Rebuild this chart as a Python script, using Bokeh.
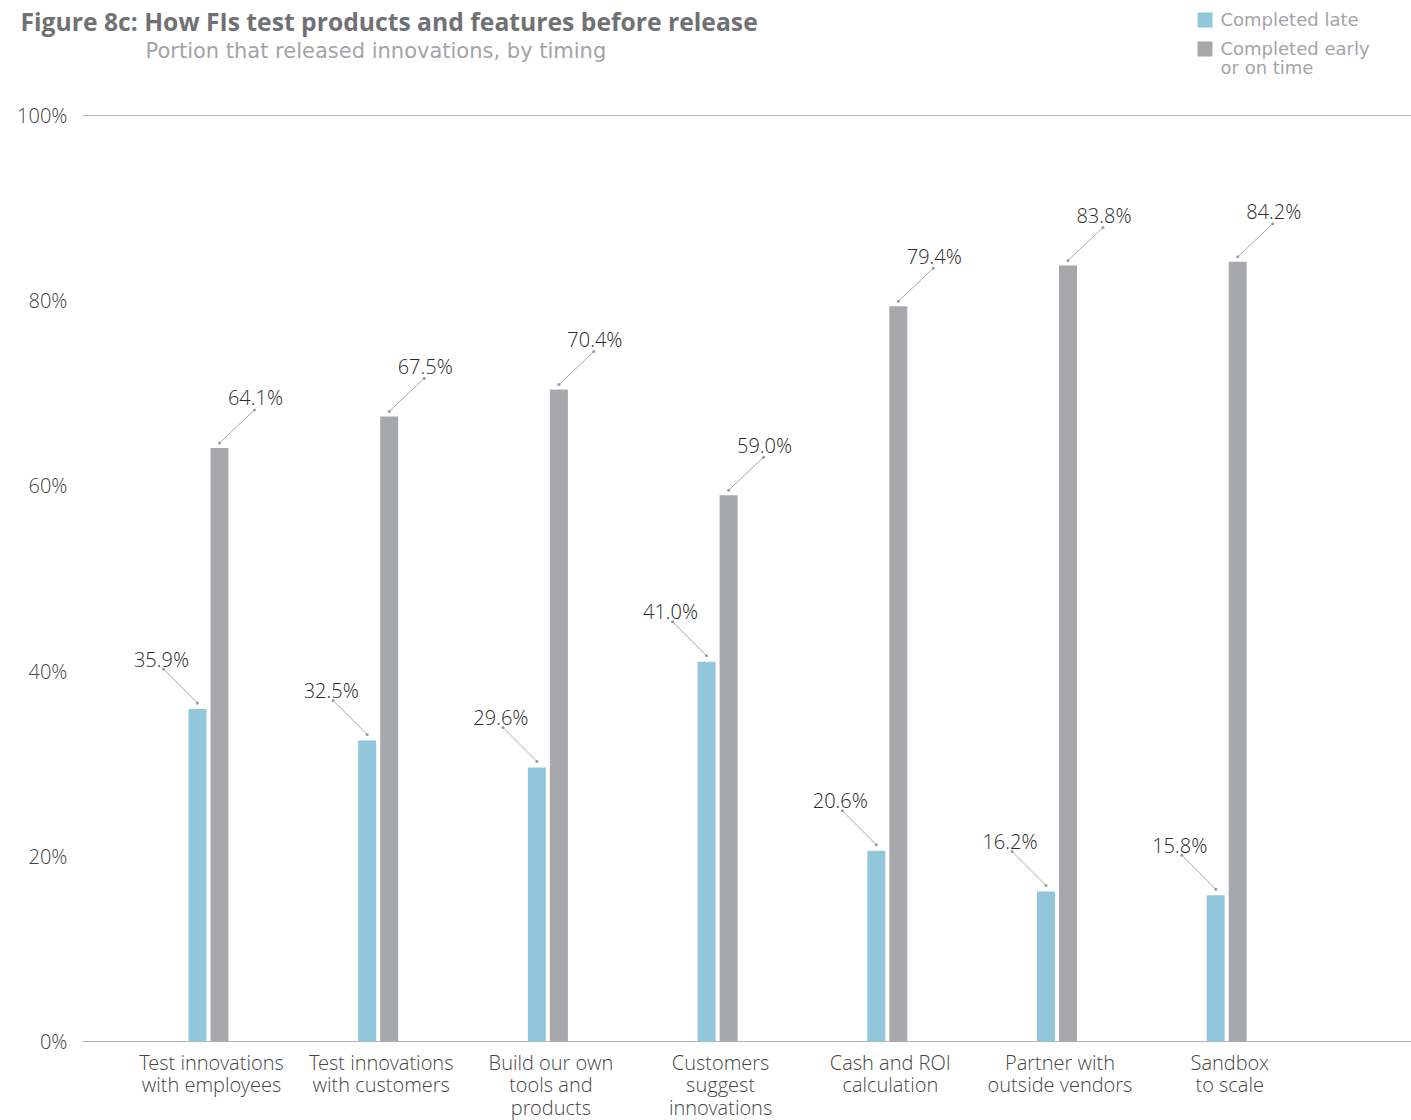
from bokeh.plotting import figure
from bokeh.models import Range1d
from bokeh.core.properties import value
from bokeh.embed import file_html
from bokeh.resources import INLINE

# ---- data ----
categories = [
    "Test innovations\nwith employees",
    "Test innovations\nwith customers",
    "Build our own\ntools and\nproducts",
    "Customers\nsuggest\ninnovations",
    "Cash and ROI\ncalculation",
    "Partner with\noutside vendors",
    "Sandbox\nto scale",
]
completed_late = [35.9, 32.5, 29.6, 41.0, 20.6, 16.2, 15.8]
completed_early = [64.1, 67.5, 70.4, 59.0, 79.4, 83.8, 84.2]
series_names = ["Completed late", "Completed early\nor on time"]
y_ticks = [0, 20, 40, 60, 80, 100]
title_text = "Figure 8c: How FIs test products and features before release"
subtitle_text = "Portion that released innovations, by timing"

# ---- layout / style ----
W, H = 1411, 1120
AXIS_L, AXIS_T, AXIS_B = 82, 115, 1041   # pixel extent of the value axis
STEP_PX = 169.7                          # pixels between category centres
FIRST_PX = 208.0                         # pixel centre of the first category
PX_PER_PCT = (AXIS_B - AXIS_T) / 100.0

BLUE = "#92c7db"
GRAY = "#a7a8ab"
RULE = "#b3b3b3"
TEXT_DARK = "#2b2b2b"
TEXT_MID = "#454545"
TEXT_LIGHT = "#a3a4a7"
TITLE_GRAY = "#707174"
FONT = value("'Open Sans Light', 'Lato Light'")
FONT_WIDE = value("DejaVu Sans")
FONT_BOLD = value("Open Sans")


def dx(px):
    return px / STEP_PX


def dy(px):
    return px / PX_PER_PCT


def xd(px):
    return (px - FIRST_PX) / STEP_PX


def yd(py):
    return (AXIS_B - py) / PX_PER_PCT


p = figure(
    width=W, height=H,
    x_range=Range1d(xd(0), xd(W)), y_range=Range1d(yd(H), yd(0)),
    output_backend="svg", toolbar_location=None,
    min_border=0,
)
p.outline_line_color = None
p.grid.visible = False
p.axis.visible = False
p.background_fill_color = "white"
p.border_fill_color = "white"

n = len(categories)
xs = list(range(n))

# value axis: rules at 0% and 100%, tick labels on the left
x_left, x_right = xd(AXIS_L), xd(W)
p.segment(x0=[x_left, x_left], x1=[x_right, x_right], y0=[0, 100], y1=[0, 100],
          line_color=RULE, line_width=1.2)
p.text(x=[xd(67)] * len(y_ticks), y=y_ticks, text=[f"{t}%" for t in y_ticks],
       text_align="right", text_baseline="middle", text_font=FONT,
       text_font_size="20px", text_color=TEXT_MID)

# bars
off = dx(11)
bw = dx(18)
p.vbar(x=[x - off for x in xs], top=completed_late, width=bw,
       fill_color=BLUE, line_color=None)
p.vbar(x=[x + off for x in xs], top=completed_early, width=bw,
       fill_color=GRAY, line_color=None)

# value labels with leader lines
lx0, ly0, lx1, ly1, ex, ey = [], [], [], [], [], []
tx, ty, tt = [], [], []
for i in xs:
    bx = i - off
    top = completed_late[i]
    a = (bx, top + dy(6))
    b = (bx - dx(34), top + dy(40))
    lx0.append(a[0]); ly0.append(a[1]); lx1.append(b[0]); ly1.append(b[1])
    ex += [a[0], b[0]]; ey += [a[1], b[1]]
    tx.append(bx - dx(36)); ty.append(top + dy(50)); tt.append(f"{top:.1f}%")

    gx = i + off
    top = completed_early[i]
    a = (gx, top + dy(5))
    b = (gx + dx(35), top + dy(38))
    lx0.append(a[0]); ly0.append(a[1]); lx1.append(b[0]); ly1.append(b[1])
    ex += [a[0], b[0]]; ey += [a[1], b[1]]
    tx.append(gx + dx(36)); ty.append(top + dy(50)); tt.append(f"{top:.1f}%")

p.segment(x0=lx0, y0=ly0, x1=lx1, y1=ly1, line_color="#a8a8a8", line_width=1)
p.scatter(x=ex, y=ey, size=3, fill_color="#9a9a9a", line_color=None)
p.text(x=tx, y=ty, text=tt, text_align="center", text_baseline="middle",
       text_font=FONT, text_font_size="20px", text_color=TEXT_DARK)

# category labels under the axis
p.text(x=[i + dx(3) for i in xs], y=[yd(1048)] * n, text=categories,
       text_align="center", text_baseline="top", text_font=FONT,
       text_font_size="20px", text_line_height=0.84, text_color=TEXT_MID)

# title and subtitle
p.text(x=[xd(20)], y=[yd(21)], text=[title_text], text_align="left",
       text_baseline="middle", text_font=FONT_BOLD, text_font_style="bold",
       text_font_size="24.7px", text_color=TITLE_GRAY)
p.text(x=[xd(145)], y=[yd(50)], text=[subtitle_text], text_align="left",
       text_baseline="middle", text_font=FONT_WIDE, text_font_size="21px",
       text_color=TEXT_LIGHT)

# legend
p.rect(x=[xd(1204.5)] * 2, y=[yd(19.5), yd(48.5)], width=dx(15), height=dy(15),
       fill_color=[BLUE, GRAY], line_color=None)
p.text(x=[xd(1220)] * 2, y=[yd(8), yd(37)], text=series_names,
       text_align="left", text_baseline="top", text_font=FONT_WIDE,
       text_font_size="18px", text_line_height=0.94, text_color=TEXT_LIGHT)

open("out.html", "w").write(file_html(p, INLINE))
